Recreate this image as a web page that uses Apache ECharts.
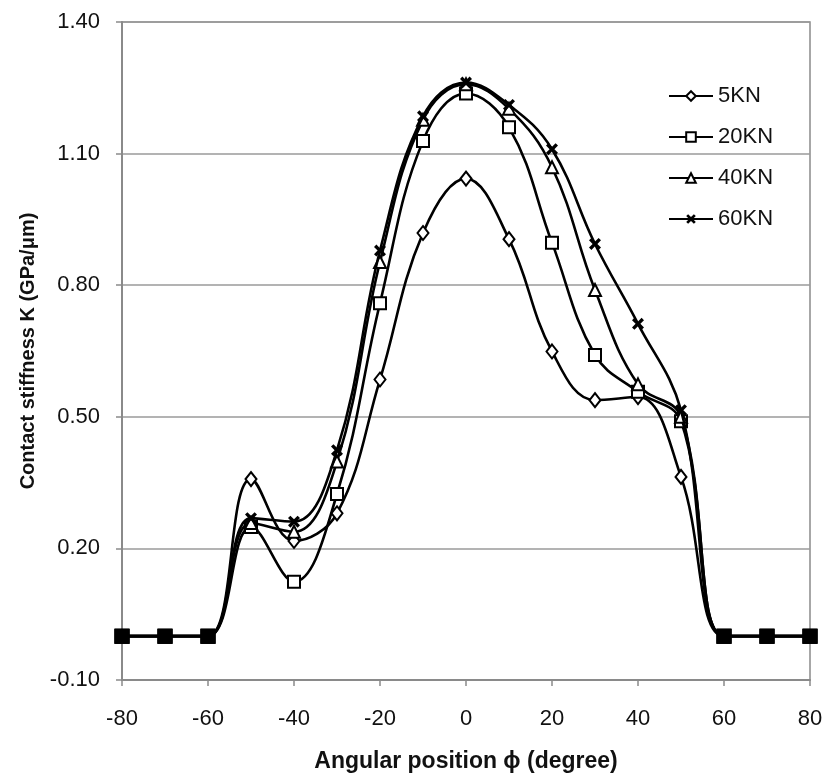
<!DOCTYPE html>
<html>
<head>
<meta charset="utf-8">
<script src="https://cdn.jsdelivr.net/npm/echarts@6/dist/echarts.min.js"></script>
<style>
html,body{margin:0;padding:0;background:#fff;}
#chart{width:826px;height:780px;}
</style>
</head>
<body>
<div id="chart"></div>
<script>
const angles = [-80,-70,-60,-50,-40,-30,-20,-10,0,10,20,30,40,50,60,70,80];
const seriesNames = ['5KN','20KN','40KN','60KN'];
const k5  = [0,0,0,0.358,0.217,0.280,0.585,0.919,1.043,0.905,0.649,0.538,0.545,0.363,0,0,0];
const k20 = [0,0,0,0.249,0.124,0.324,0.759,1.129,1.237,1.160,0.897,0.641,0.557,0.490,0,0,0];
const k40 = [0,0,0,0.258,0.238,0.398,0.853,1.177,1.258,1.202,1.069,0.789,0.574,0.500,0,0,0];
const k60 = [0,0,0,0.269,0.261,0.424,0.879,1.185,1.262,1.211,1.110,0.894,0.712,0.515,0,0,0];
const yTicks = ['-0.10','0.20','0.50','0.80','1.10','1.40'];
const xTicks = ['-80','-60','-40','-20','0','20','40','60','80'];

const crossPath = 'path://M2,0L5,3L8,0L10,2L7,5L10,8L8,10L5,7L2,10L0,8L3,5L0,2Z';
const symbols = ['diamond','rect','triangle',crossPath];
const sizes = [[11,14],12,12,12];
const allVals = [k5,k20,k40,k60];
const FONT = 'Liberation Sans, Arial, sans-serif';

function buildData(vals){
  return vals.map((v,i)=>{
    if (v === 0) {
      return {value:[angles[i], v], symbol:'rect', symbolSize:13,
              itemStyle:{color:'#000', borderColor:'#000'}};
    }
    return [angles[i], v];
  });
}

const series = seriesNames.map((name,si)=>({
  name: name,
  type: 'line',
  smooth: 0.4,
  data: buildData(allVals[si]),
  symbol: symbols[si],
  symbolSize: sizes[si],
  showAllSymbol: true,
  lineStyle: {color:'#000', width:2.6},
  itemStyle: si === 3 ? {color:'#000', borderColor:'#000', borderWidth:0}
                      : {color:'#fff', borderColor:'#000', borderWidth:2},
  z: 2 + si
}));

const chart = echarts.init(document.getElementById('chart'), null, {renderer:'canvas'});
chart.setOption({
  backgroundColor: '#fff',
  animation: false,
  grid: {left:122, right:16, top:22, bottom:100, show:true, borderColor:'#8a8a8a', borderWidth:1.5, backgroundColor:'transparent'},
  legend: {
    orient: 'vertical',
    left: 663, top: 80,
    itemWidth: 44, itemHeight: 12, itemGap: 19,
    textStyle: {fontFamily: FONT, fontSize: 22, color:'#111', lineHeight:22},
    data: seriesNames
  },
  xAxis: {
    type: 'value', min: -80, max: 80, interval: 20,
    name: 'Angular position \u03d5 (degree)',
    nameLocation: 'middle', nameGap: 70,
    nameTextStyle: {fontFamily: FONT, fontSize: 23, fontWeight:'bold', color:'#111'},
    axisLine: {show:true, onZero:false, lineStyle:{color:'#8a8a8a', width:2}},
    axisTick: {show:true, inside:false, length:6, lineStyle:{color:'#8a8a8a', width:1.5}},
    axisLabel: {fontFamily: FONT, fontSize: 22, color:'#111', margin:28,
      formatter: v => xTicks.includes(String(Math.round(v))) ? String(Math.round(v)) : ''},
    splitLine: {show:false}
  },
  yAxis: {
    type: 'value', min: -0.1, max: 1.4, interval: 0.3,
    name: 'Contact stiffness K (GPa/\u03bcm)',
    nameLocation: 'middle', nameGap: 82, nameRotate: 90,
    nameTextStyle: {fontFamily: FONT, fontSize: 20, fontWeight:'bold', color:'#111'},
    axisLine: {show:true, onZero:false, lineStyle:{color:'#8a8a8a', width:2}},
    axisTick: {show:true, inside:false, length:6, lineStyle:{color:'#8a8a8a', width:1.5}},
    axisLabel: {fontFamily: FONT, fontSize: 22, color:'#111', margin:22,
      formatter: v => { const s = v.toFixed(2); return yTicks.includes(s) ? s : ''; }},
    splitLine: {show:true, lineStyle:{color:'#9a9a9a', width:1.5}}
  },
  series: series
});
</script>
</body>
</html>
